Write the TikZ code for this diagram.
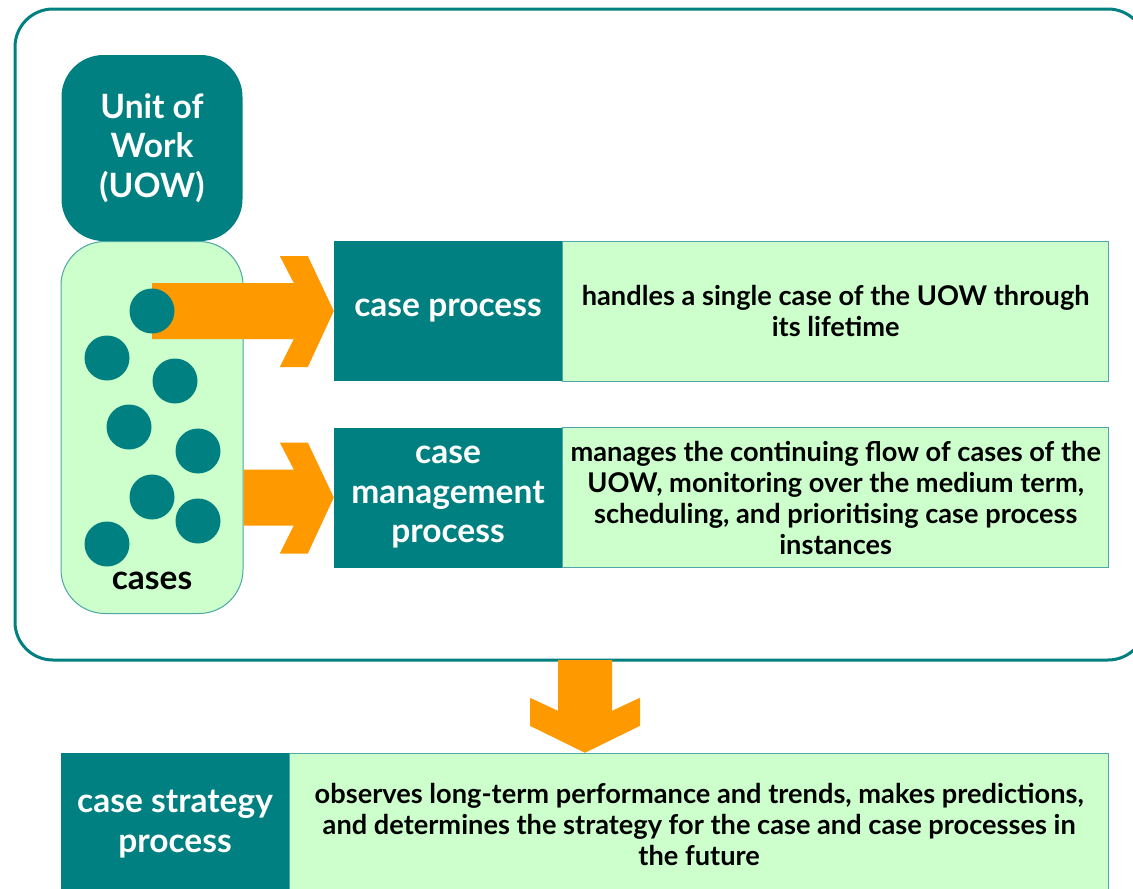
\documentclass[tikz,border=0pt]{standalone}
\usepackage{fontspec}
\setmainfont{Lato}
\usepackage{xcolor}
\usetikzlibrary{positioning,calc}

\definecolor{teal}{HTML}{008080}
\definecolor{paleteal}{HTML}{4FA6A6}
\definecolor{palegreen}{HTML}{CCFFCC}
\definecolor{flow}{HTML}{FF9900}

\tikzset{
    titlebox/.style={fill=teal, text=white, font=\bfseries\fontsize{33.5}{39.5}\selectfont,
        align=center, inner sep=0pt, minimum width=228pt, minimum height=140pt},
    descbox/.style={fill=palegreen, draw=paleteal, line width=1pt, text=black,
        font=\bfseries\fontsize{27.2}{31}\selectfont, align=center, inner sep=0pt,
        minimum height=140pt},
    casedot/.style={circle, fill=teal, inner sep=0pt, minimum size=45pt},
    flowarrow/.style={fill=flow},
    frame/.style={draw=teal, line width=3pt, rounded corners=38pt}
}

\begin{document}
\begin{tikzpicture}[x=1pt, y=-1pt]
    \useasboundingbox (0,0) rectangle (1133,889);
    \clip (0,0) rectangle (1133,889);
    % outer frame of the unit of work
    \draw[frame] (15,9) rectangle (1146,660);
    \coordinate (frame bottom) at (585,660);

    \node[titlebox, rounded corners=42pt, minimum width=181pt, minimum height=186pt]
        (uow) at (152,148) {Unit of\\Work\\(UOW)};
    \node[fill=palegreen, draw=paleteal, line width=1pt, rounded corners=44pt,
        minimum width=182pt, minimum height=372pt] (cases) at (152,427.5) {};
    \node[font=\bfseries\fontsize{33.5}{38}\selectfont] (cases label) at (152,581) {cases};

    \node[titlebox] (cp) at (448,311) {case process};
    \node[descbox, minimum width=546pt, right=0pt of cp] (cp desc)
        {handles a single case of the UOW through\\its lifetime};
    \node[titlebox] (cmp) at (448,497.5) {case\\management\\process};
    \node[descbox, minimum width=546pt, right=0pt of cmp] (cmp desc)
        {manages the continuing flow of cases of the\\UOW, monitoring over the medium term,\\
         scheduling, and prioritising case process\\instances};
    \node[titlebox, minimum width=228pt, minimum height=142pt] (csp) at (175,824)
        {case strategy\\process};
    \node[descbox, minimum width=819pt, minimum height=142pt, right=0pt of csp] (csp desc)
        {observes long-term performance and trends, makes predictions,\\
         and determines the strategy for the case and case processes in\\the future};

    \coordinate (c1) at (152,311);
    % block arrows
    \fill[flowarrow] ($(c1)+(0,-28)$) -- ($(cp.west)+(-40,-28)$) -- ($(cp.west)+(-54,-55)$)
        -- ($(cp.west)+(-26,-55)$) -- (cp.west) -- ($(cp.west)+(-26,56)$)
        -- ($(cp.west)+(-54,56)$) -- ($(cp.west)+(-40,28)$) -- ($(c1)+(0,28)$) -- cycle;
    \fill[flowarrow] ($(cases.east |- cmp.west)+(0,-28)$) -- ($(cmp.west)+(-40,-28)$)
        -- ($(cmp.west)+(-54,-55)$) -- ($(cmp.west)+(-26,-55)$) -- (cmp.west)
        -- ($(cmp.west)+(-26,56)$) -- ($(cmp.west)+(-54,56)$) -- ($(cmp.west)+(-40,28)$)
        -- ($(cases.east |- cmp.west)+(0,28)$) -- cycle;
    \coordinate (tip) at (frame bottom |- csp.north);
    \fill[flowarrow] ($(frame bottom)+(-27,0)$) -- ($(tip)+(-27,-42)$) -- ($(tip)+(-55,-55)$)
        -- ($(tip)+(-55,-27)$) -- (tip) -- ($(tip)+(55,-27)$) -- ($(tip)+(55,-55)$)
        -- ($(tip)+(27,-42)$) -- ($(frame bottom)+(27,0)$) -- cycle;

    % the cases themselves
    \foreach \x/\y [count=\i] in {152/311, 107/358, 175/381, 129/427, 198/451,
        152/497, 198/521, 107/544}
        \node[casedot] (c\i) at (\x,\y) {};
\end{tikzpicture}
\end{document}
